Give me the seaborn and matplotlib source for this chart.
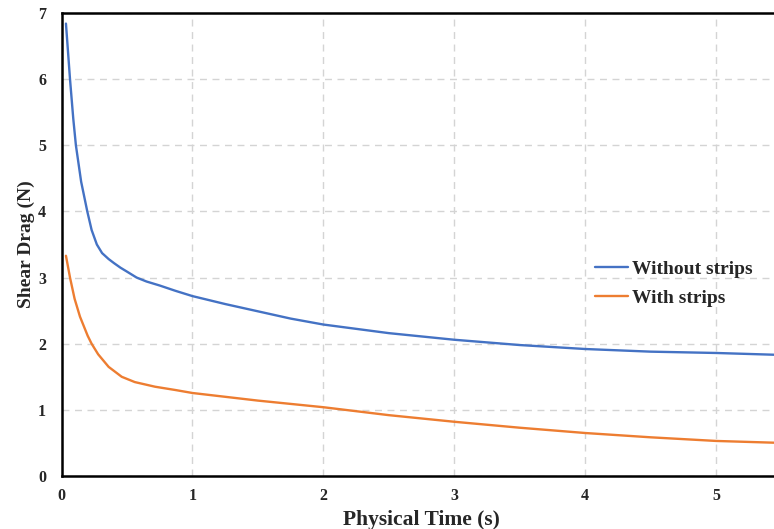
import matplotlib
matplotlib.use("Agg")
import matplotlib.pyplot as plt
import seaborn as sns
import pandas as pd

# Shear drag history for the two configurations
time_without = [0.034, 0.065, 0.09, 0.11, 0.15, 0.197, 0.23, 0.27, 0.31, 0.36, 0.40,
                0.45, 0.50, 0.574, 0.65, 0.75, 0.87, 1.00, 1.25, 1.50, 1.75, 2.00,
                2.50, 3.00, 3.50, 4.00, 4.50, 5.00, 5.50]
drag_without = [6.84, 6.00, 5.40, 5.00, 4.45, 4.00, 3.72, 3.50, 3.37, 3.28, 3.22,
                3.15, 3.09, 3.00, 2.94, 2.88, 2.80, 2.72, 2.60, 2.49, 2.38, 2.29,
                2.16, 2.06, 1.98, 1.92, 1.88, 1.86, 1.83]

time_with = [0.034, 0.065, 0.10, 0.141, 0.20, 0.23, 0.28, 0.36, 0.46, 0.56, 0.714,
             0.87, 1.00, 1.50, 2.00, 2.50, 3.00, 3.50, 4.00, 4.50, 5.00, 5.50]
drag_with = [3.33, 3.00, 2.68, 2.41, 2.12, 2.00, 1.84, 1.65, 1.50, 1.42, 1.35,
             1.30, 1.255, 1.14, 1.04, 0.92, 0.82, 0.73, 0.65, 0.585, 0.53, 0.50]

series_names = ["Without strips", "With strips"]
series_colors = ["#4472C4", "#ED7D31"]
x_ticks = [0, 1, 2, 3, 4, 5]
y_ticks = [0, 1, 2, 3, 4, 5, 6, 7]

df = pd.concat([
    pd.DataFrame({"time": time_without, "drag": drag_without, "case": series_names[0]}),
    pd.DataFrame({"time": time_with, "drag": drag_with, "case": series_names[1]}),
], ignore_index=True)

sns.set_theme(style="white")
plt.rcParams["font.family"] = ["Liberation Serif", "DejaVu Serif"]

fig = plt.figure(figsize=(7.74, 5.29), dpi=100)
ax = fig.add_axes([61.5 / 774, 1 - 476 / 529, 720 / 774, 463 / 529])

sns.lineplot(data=df, x="time", y="drag", hue="case", hue_order=series_names,
             palette=series_colors, linewidth=1.7, ax=ax, sort=False,
             estimator=None, solid_joinstyle="round", solid_capstyle="round")

ax.set_xlim(0, 5.5)
ax.set_ylim(0, 7)
ax.set_xticks(x_ticks)
ax.set_yticks(y_ticks)
ax.set_xticklabels([str(v) for v in x_ticks], fontsize=11.5, fontweight="bold")
ax.set_yticklabels([str(v) for v in y_ticks], fontsize=11.5, fontweight="bold")
ax.tick_params(axis="both", direction="in", length=5, width=1.5, color="black")
ax.tick_params(axis="y", pad=11)
ax.tick_params(axis="x", pad=9)

ax.grid(True, color="#d4d4d4", linestyle=(0, (5, 4)), linewidth=1.0)
ax.set_axisbelow(True)

for side in ["top", "bottom", "left"]:
    ax.spines[side].set_visible(True)
    ax.spines[side].set_color("black")
    ax.spines[side].set_linewidth(1.8)
ax.spines["right"].set_visible(False)

ax.set_xlabel("Physical Time (s)", fontsize=15.5, fontweight="bold", labelpad=4)
ax.set_ylabel("Shear Drag (N)", fontsize=14, fontweight="bold", labelpad=2)

leg = ax.legend(loc="upper left", bbox_to_anchor=(595 / 774, 1 - 260 / 529),
                bbox_transform=fig.transFigure, frameon=False,
                prop={"family": "Liberation Serif", "weight": "bold", "size": 14},
                handlelength=1.7, handletextpad=0.2, labelspacing=0.6,
                borderaxespad=0, borderpad=0)
for line in leg.get_lines():
    line.set_linewidth(1.7)

fig.savefig("out.png", dpi=100)
